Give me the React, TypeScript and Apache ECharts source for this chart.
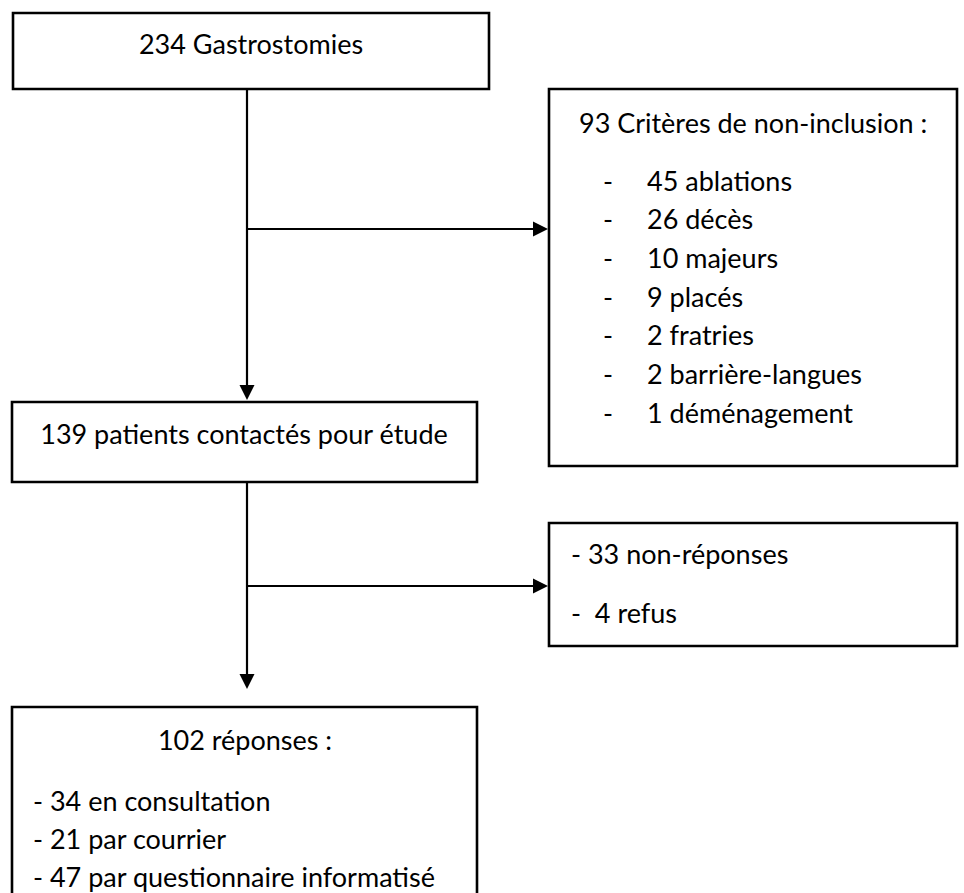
import React, { useEffect, useRef } from "react";
import * as echarts from "echarts";

const topLabel = "234 Gastrostomies";
const exclusionTitle = "93 Critères de non-inclusion :";
const exclusionItems = [
  "45 ablations",
  "26 décès",
  "10 majeurs",
  "9 placés",
  "2 fratries",
  "2 barrière-langues",
  "1 déménagement",
];
const contactedLabel = "139 patients contactés pour étude";
const lossItems = ["- 33 non-réponses", "-  4 refus"];
const responseTitle = "102 réponses :";
const responseItems = [
  "- 34 en consultation",
  "- 21 par courrier",
  "- 47 par questionnaire informatisé",
];

const FONT = "27px Lato, Carlito, Calibri, 'Open Sans', sans-serif";
const BORDER = 2.6;
const LINE = 2.2;

function box(x: number, y: number, w: number, h: number) {
  return {
    type: "rect",
    shape: { x, y, width: w, height: h },
    style: { fill: "#fff", stroke: "#000", lineWidth: BORDER },
    z: 1,
  };
}
function line(x1: number, y1: number, x2: number, y2: number) {
  return {
    type: "line",
    shape: { x1, y1, x2, y2 },
    style: { stroke: "#000", lineWidth: LINE },
    z: 2,
  };
}
function tri(points: number[][]) {
  return { type: "polygon", shape: { points }, style: { fill: "#000" }, z: 2 };
}
function txt(text: string, x: number, y: number, align = "left") {
  return {
    type: "text",
    x,
    y,
    style: {
      text,
      font: FONT,
      fill: "#000",
      textAlign: align,
      textVerticalAlign: "middle",
    },
    z: 3,
  };
}

export default function App() {
  const ref = useRef<HTMLDivElement>(null);
  useEffect(() => {
    document.body.style.margin = "0";
    const chart = echarts.init(ref.current!, undefined, { renderer: "svg" });
    const els: any[] = [];
    // top box
    els.push(box(13, 13, 476, 76));
    els.push(txt(topLabel, 251, 43, "center"));
    // main vertical 1
    els.push(line(247, 89, 247, 387));
    els.push(tri([[239.5, 385], [254.5, 385], [247, 400]]));
    // branch 1
    els.push(line(247, 229, 535, 229));
    els.push(tri([[533, 221.5], [533, 236.5], [548, 229]]));
    // exclusion box
    els.push(box(549, 89, 408, 377));
    els.push(txt(exclusionTitle, 579, 122));
    exclusionItems.forEach((t, i) => {
      const y = 180 + i * 38.7;
      els.push(txt("-", 603, y));
      els.push(txt(t, 647, y));
    });
    // contacted box
    els.push(box(12, 402, 465, 80));
    els.push(txt(contactedLabel, 244, 433, "center"));
    // vertical 2
    els.push(line(247, 482, 247, 676));
    els.push(tri([[239.5, 674], [254.5, 674], [247, 689]]));
    // branch 2
    els.push(line(247, 586, 535, 586));
    els.push(tri([[533, 578.5], [533, 593.5], [548, 586]]));
    // loss box
    els.push(box(549, 523, 408, 123));
    lossItems.forEach((t, i) => els.push(txt(t, 571, 553 + i * 59)));
    // response box
    els.push(box(12, 707, 465, 200));
    els.push(txt(responseTitle, 245, 739, "center"));
    responseItems.forEach((t, i) => els.push(txt(t, 33, 800 + i * 38)));

    chart.setOption({
      animation: false,
      backgroundColor: "#fff",
      graphic: { elements: els },
    });
    return () => chart.dispose();
  }, []);
  return (
    <div
      ref={ref}
      style={{ position: "fixed", left: 0, top: 0, width: 964, height: 893 }}
    />
  );
}
